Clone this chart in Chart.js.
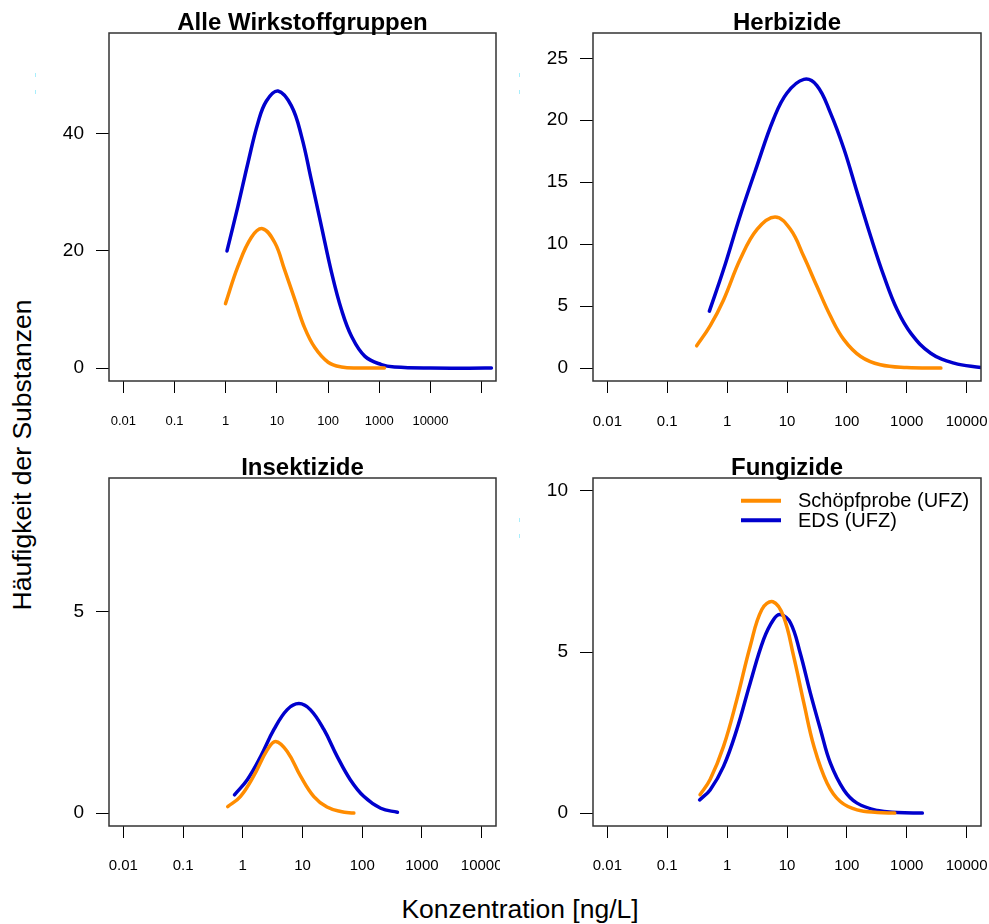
<!DOCTYPE html>
<html lang="de">
<head>
<meta charset="utf-8">
<title>Konzentrationsverteilung der Wirkstoffgruppen</title>
<script src="https://cdn.jsdelivr.net/npm/chart.js@4.4.1/dist/chart.umd.min.js"></script>
<style>
    body { margin: 0; background: #fff; font-family: "Liberation Sans", Arial, sans-serif; }
    #page { position: relative; width: 989px; height: 924px; overflow: hidden; background: #fff; }
    .panel { position: absolute; }
    .axis-title { position: absolute; font-size: 26.5px; color: #000; white-space: nowrap; }
    #yTitle { left: 22px; top: 455px; transform: translate(-50%, -50%) rotate(-90deg); }
    #xTitle { left: 520px; top: 909px; transform: translate(-50%, -50%); }
    .dash { position: absolute; width: 1.5px; height: 4px; background: #a8eefc; }
</style>
</head>
<body>
<div id="page">
    <canvas id="chartAlle" class="panel" width="460" height="440" style="left:40px; top:0px;"></canvas>
    <canvas id="chartHerbi" class="panel" width="469" height="440" style="left:520px; top:0px;"></canvas>
    <canvas id="chartInsekt" class="panel" width="460" height="440" style="left:40px; top:440px;"></canvas>
    <canvas id="chartFungi" class="panel" width="469" height="440" style="left:520px; top:440px;"></canvas>
    <div id="yTitle" class="axis-title">Häufigkeit der Substanzen</div>
    <div id="xTitle" class="axis-title">Konzentration [ng/L]</div>
    <span class="dash" style="left:34.5px; top:73px;"></span>
    <span class="dash" style="left:34.5px; top:89.5px;"></span>
    <span class="dash" style="left:518.5px; top:73px;"></span>
    <span class="dash" style="left:518.5px; top:89.5px;"></span>
    <span class="dash" style="left:518.5px; top:518px;"></span>
    <span class="dash" style="left:518.5px; top:534px;"></span>
</div>

<script>
// Series names
const seriesNames = ['Schöpfprobe (UFZ)', 'EDS (UFZ)'];
const seriesColors = ['#FF8C00', '#0000CD'];

// Alle Wirkstoffgruppen
const alleSchoepfConc = [0.99, 1.74, 3.16, 5.25, 9.12, 14.1, 22.4, 34.7, 55, 100, 182, 400, 1260];
const alleSchoepfFreq = [11.0, 17.4, 22.3, 23.8, 21.4, 16.8, 11.7, 6.9, 3.5, 1.0, 0.2, 0.03, 0];
const alleEdsConc = [1.06, 1.74, 2.73, 4.27, 6.24, 10.5, 19.1, 30.2, 46.8, 74.1, 117, 182, 288, 525, 1100, 2000, 10000, 155000];
const alleEdsFreq = [20.0, 27.7, 35.1, 41.9, 45.6, 47.3, 44.8, 39.6, 32.2, 24.2, 16.3, 10.0, 5.4, 2.0, 0.6, 0.2, 0.02, 0];

// Herbizide
const herbiSchoepfConc = [0.31, 0.52, 0.871, 1.66, 3.16, 6.31, 11.4, 19.1, 31.6, 53.1, 89.1, 170, 363, 1000, 3715];
const herbiSchoepfFreq = [1.8, 3.4, 5.5, 8.8, 11.2, 12.2, 11.2, 9.0, 6.6, 4.2, 2.3, 0.94, 0.27, 0.05, 0];
const herbiEdsConc = [0.506, 0.871, 1.65, 3.14, 5.97, 10, 19.1, 31.6, 53.1, 89.1, 148, 251, 417, 692, 1175, 2512, 6166, 17400];
const herbiEdsFreq = [4.6, 7.95, 12.3, 16.3, 20.1, 22.2, 23.3, 22.8, 20.6, 17.7, 14.2, 10.6, 7.4, 4.7, 2.8, 1.2, 0.4, 0.05];

// Insektizide
const insektSchoepfConc = [0.56, 0.91, 1.51, 2.57, 3.55, 5.55, 9.33, 15.5, 25.7, 43.7, 72.4];
const insektSchoepfFreq = [0.16, 0.41, 0.91, 1.57, 1.78, 1.53, 0.91, 0.41, 0.15, 0.04, 0];
const insektEdsConc = [0.726, 1.19, 2.0, 3.31, 5.55, 8.71, 13.5, 22.9, 38.0, 63.1, 107, 204, 389];
const insektEdsFreq = [0.455, 0.83, 1.41, 2.07, 2.57, 2.72, 2.57, 2.07, 1.41, 0.83, 0.41, 0.12, 0.02];

// Fungizide
const fungiSchoepfConc = [0.353, 0.52, 0.871, 1.45, 2.43, 3.8, 5.82, 8.71, 12.9, 19.1, 28.2, 46.8, 77.6, 148, 324, 630];
const fungiSchoepfFreq = [0.57, 1.04, 2.07, 3.52, 5.18, 6.32, 6.56, 6.11, 4.87, 3.42, 2.07, 0.93, 0.36, 0.10, 0.02, 0];
const fungiEdsConc = [0.347, 0.52, 0.871, 1.45, 2.43, 4.07, 5.97, 7.76, 11.4, 16.6, 24.5, 36.3, 53.1, 89.1, 148, 324, 692, 1820];
const fungiEdsFreq = [0.41, 0.72, 1.45, 2.59, 4.04, 5.39, 6.01, 6.16, 5.91, 4.97, 3.73, 2.59, 1.55, 0.72, 0.31, 0.08, 0.02, 0];

// Axis ticks
const xTicksWide = [0.01, 0.1, 1, 10, 100, 1000, 10000, 100000];
const xLabelsWide = ['0.01', '0.1', '1', '10', '100', '1000', '10000', ''];
const xTicksNarrow = [0.01, 0.1, 1, 10, 100, 1000, 10000];
const xLabelsNarrow = ['0.01', '0.1', '1', '10', '100', '1000', '10000'];
const yTicksAlle = [0, 20, 40];
const yTicksHerbi = [0, 5, 10, 15, 20, 25];
const yTicksInsekt = [0, 5];
const yTicksFungi = [0, 5, 10];

const FONT = '"Liberation Sans", Arial, sans-serif';

// frame around the plotting region
const frameBox = {
    id: 'frameBox',
    afterDatasetsDraw(chart) {
        const { ctx, chartArea: a } = chart;
        ctx.save();
        ctx.strokeStyle = '#333';
        ctx.lineWidth = 1.5;
        ctx.strokeRect(a.left, a.top, a.right - a.left, a.bottom - a.top);
        ctx.restore();
    }
};

// bold heading centred over the plotting region
const panelTitle = {
    id: 'panelTitle',
    afterDraw(chart, args, opts) {
        const { ctx, chartArea: a } = chart;
        ctx.save();
        ctx.font = 'bold 24px ' + FONT;
        ctx.fillStyle = '#000';
        ctx.textAlign = 'center';
        ctx.textBaseline = 'alphabetic';
        ctx.fillText(opts.text, (a.left + a.right) / 2, opts.baseline);
        ctx.restore();
    }
};

// line legend inside the plot
const lineLegend = {
    id: 'lineLegend',
    afterDraw(chart, args, opts) {
        if (!opts.show) return;
        const ctx = chart.ctx;
        ctx.save();
        ctx.font = '20px ' + FONT;
        ctx.textBaseline = 'middle';
        ctx.textAlign = 'left';
        chart.data.datasets.forEach((ds, i) => {
            const y = opts.y + i * opts.rowGap;
            ctx.strokeStyle = ds.borderColor;
            ctx.lineWidth = 4;
            ctx.beginPath();
            ctx.moveTo(opts.x, y);
            ctx.lineTo(opts.x + 40, y);
            ctx.stroke();
            ctx.fillStyle = '#000';
            ctx.fillText(ds.label, opts.x + 57, y + 1);
        });
        ctx.restore();
    }
};

function toPoints(conc, freq) {
    return conc.map((c, i) => ({ x: c, y: freq[i] }));
}

function makeDataset(idx, conc, freq) {
    return {
        label: seriesNames[idx],
        data: toPoints(conc, freq),
        borderColor: seriesColors[idx],
        borderWidth: 3.5,
        borderCapStyle: 'round',
        borderJoinStyle: 'round',
        pointRadius: 0,
        fill: false,
        tension: 0.4
    };
}

function makePanel(canvasId, cfg) {
    const ctx = document.getElementById(canvasId).getContext('2d');
    return new Chart(ctx, {
        type: 'line',
        data: {
            datasets: [
                makeDataset(0, cfg.schoepfConc, cfg.schoepfFreq),
                makeDataset(1, cfg.edsConc, cfg.edsFreq)
            ]
        },
        options: {
            responsive: false,
            animation: false,
            layout: { padding: { top: cfg.top, right: cfg.right, left: 0, bottom: 0 } },
            scales: {
                x: {
                    type: 'logarithmic',
                    min: Math.pow(10, cfg.xRange[0]),
                    max: Math.pow(10, cfg.xRange[1]),
                    afterBuildTicks: (s) => { s.ticks = cfg.xTicks.map(v => ({ value: v })); },
                    afterFit: (s) => {
                        // keep the plot box fixed, labels may hang over the edges
                        s.height = cfg.xAxisHeight;
                        s.paddingLeft = 0;
                        s.paddingRight = 0;
                    },
                    grid: { drawOnChartArea: false, drawTicks: true, tickLength: 12, tickColor: '#000', tickWidth: 1 },
                    border: { display: false },
                    ticks: {
                        autoSkip: false,
                        maxRotation: 0,
                        minRotation: 0,
                        padding: cfg.xPad,
                        color: '#000',
                        font: { family: FONT, size: cfg.xFont },
                        callback: (v, i) => cfg.xLabels[i]
                    }
                },
                y: {
                    min: cfg.yRange[0],
                    max: cfg.yRange[1],
                    afterBuildTicks: (s) => { s.ticks = cfg.yTicks.map(v => ({ value: v })); },
                    afterFit: (s) => {
                        s.width = cfg.yAxisWidth;
                        s.paddingTop = 0;
                        s.paddingBottom = 0;
                    },
                    grid: { drawOnChartArea: false, drawTicks: true, tickLength: 13, tickColor: '#000', tickWidth: 1 },
                    border: { display: false },
                    ticks: {
                        padding: 12,
                        color: '#000',
                        font: { family: FONT, size: 19 },
                        callback: (v) => String(v)
                    }
                }
            },
            plugins: {
                legend: { display: false },
                tooltip: { enabled: false },
                panelTitle: { text: cfg.title, baseline: cfg.titleBaseline },
                lineLegend: { show: !!cfg.legend, x: 221, y: 60.7, rowGap: 19.6 }
            }
        },
        plugins: [frameBox, panelTitle, lineLegend]
    });
}

const charts = {};

charts.alle = makePanel('chartAlle', {
    title: 'Alle Wirkstoffgruppen', titleBaseline: 30,
    schoepfConc: alleSchoepfConc, schoepfFreq: alleSchoepfFreq,
    edsConc: alleEdsConc, edsFreq: alleEdsFreq,
    xRange: [-2.28, 5.28], xTicks: xTicksWide, xLabels: xLabelsWide, xFont: 13, xPad: 21,
    yRange: [-2.2, 57.2], yTicks: yTicksAlle,
    top: 33, right: 4, yAxisWidth: 69, xAxisHeight: 59
});

charts.herbi = makePanel('chartHerbi', {
    title: 'Herbizide', titleBaseline: 30,
    schoepfConc: herbiSchoepfConc, schoepfFreq: herbiSchoepfFreq,
    edsConc: herbiEdsConc, edsFreq: herbiEdsFreq,
    xRange: [-2.24, 4.24], xTicks: xTicksNarrow, xLabels: xLabelsNarrow, xFont: 15, xPad: 20,
    yRange: [-1.04, 27.04], yTicks: yTicksHerbi,
    top: 33, right: 8, yAxisWidth: 73, xAxisHeight: 59
});

charts.insekt = makePanel('chartInsekt', {
    title: 'Insektizide', titleBaseline: 35,
    schoepfConc: insektSchoepfConc, schoepfFreq: insektSchoepfFreq,
    edsConc: insektEdsConc, edsFreq: insektEdsFreq,
    xRange: [-2.24, 4.24], xTicks: xTicksNarrow, xLabels: xLabelsNarrow, xFont: 15, xPad: 19,
    yRange: [-0.32, 8.32], yTicks: yTicksInsekt,
    top: 38, right: 4, yAxisWidth: 69, xAxisHeight: 54
});

charts.fungi = makePanel('chartFungi', {
    title: 'Fungizide', titleBaseline: 35,
    schoepfConc: fungiSchoepfConc, schoepfFreq: fungiSchoepfFreq,
    edsConc: fungiEdsConc, edsFreq: fungiEdsFreq,
    xRange: [-2.24, 4.24], xTicks: xTicksNarrow, xLabels: xLabelsNarrow, xFont: 15, xPad: 19,
    yRange: [-0.4, 10.4], yTicks: yTicksFungi,
    top: 38, right: 8, yAxisWidth: 73, xAxisHeight: 54,
    legend: true
});
</script>
</body>
</html>
